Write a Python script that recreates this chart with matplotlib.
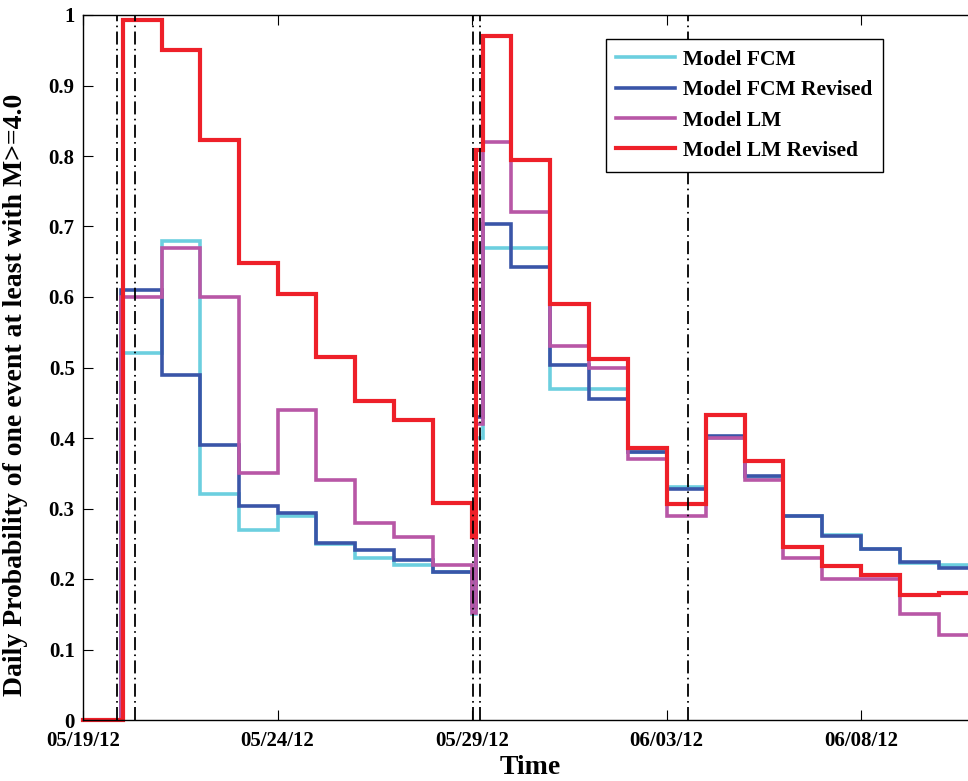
import datetime as dt
import numpy as np
import matplotlib
matplotlib.use("Agg")
import matplotlib.pyplot as plt
import matplotlib.dates as mdates
from matplotlib.ticker import FormatStrFormatter

plt.rcParams['font.family'] = ['Liberation Serif', 'DejaVu Serif']
plt.rcParams['font.weight'] = 'bold'

start = dt.datetime(2012, 5, 19)

# step edges, in days after 05/19/12
edges_red = [0, 1.03, 2.02, 3, 4, 5, 6, 7, 8, 9, 10, 10.1, 10.28,
             11, 12, 13, 14, 15, 16, 17, 18, 19, 20, 21, 22, 23]
edges_oth = [0, 0.97, 2.02, 3, 4, 5, 6, 7, 8, 9, 10, 10.1, 10.28,
             11, 12, 13, 14, 15, 16, 17, 18, 19, 20, 21, 22, 23]

fcm = [0, 0.52, 0.68, 0.32, 0.27, 0.29, 0.25, 0.23, 0.22, 0.21, 0.15, 0.40, 0.67,
       0.67, 0.47, 0.47, 0.38, 0.33, 0.40, 0.345, 0.29, 0.262, 0.242, 0.222, 0.22]
fcm_rev = [0, 0.61, 0.49, 0.39, 0.303, 0.293, 0.251, 0.241, 0.227, 0.21, 0.16, 0.43, 0.703,
           0.642, 0.503, 0.455, 0.38, 0.327, 0.403, 0.346, 0.289, 0.261, 0.243, 0.224, 0.216]
lm = [0, 0.60, 0.67, 0.60, 0.35, 0.44, 0.34, 0.28, 0.26, 0.22, 0.152, 0.42, 0.82,
      0.72, 0.53, 0.50, 0.37, 0.29, 0.40, 0.34, 0.23, 0.20, 0.20, 0.15, 0.12]
lm_rev = [0, 0.993, 0.951, 0.822, 0.648, 0.604, 0.515, 0.453, 0.425, 0.308, 0.259, 0.808, 0.970,
          0.795, 0.590, 0.512, 0.386, 0.307, 0.432, 0.367, 0.246, 0.218, 0.206, 0.178, 0.180]

# event times (dash-dot markers)
events = [0.864, 1.336, 10.03, 10.21, 15.55]

t0 = mdates.date2num(start)

fig = plt.figure(figsize=(9.68, 7.81), dpi=100)
ax = fig.add_axes([83 / 968, 61 / 781, 895 / 968, 705 / 781])

series = [
    (edges_oth, fcm, '#6ccfdf', 'Model FCM', 2.6),
    (edges_oth, fcm_rev, '#3a55a8', 'Model FCM Revised', 2.6),
    (edges_oth, lm, '#b857a6', 'Model LM', 2.6),
    (edges_red, lm_rev, '#ee2029', 'Model LM Revised', 3.0),
]
for edges, vals, col, lab, lw in series:
    x = t0 + np.array(edges)
    y = list(vals) + [vals[-1]]
    ax.step(x, y, where='post', color=col, lw=lw, label=lab,
            solid_joinstyle='miter', clip_on=False)

for e in events:
    ax.axvline(t0 + e, color='black', lw=1.3, ls=(0, (7.2, 2.4, 0.9, 2.4)), zorder=5)

ax.set_xlim(t0, t0 + 23)
ax.set_ylim(0, 1)
ax.set_xticks([t0 + 5 * i for i in range(5)])
ax.xaxis.set_major_formatter(mdates.DateFormatter('%m/%d/%y'))
ax.set_yticks(np.arange(0, 1.01, 0.1))
ax.yaxis.set_major_formatter(FormatStrFormatter('%g'))

ax.tick_params(direction='in', top=True, right=True, length=7, width=0.8,
               labelsize=15)
ax.tick_params(axis='x', pad=8)
ax.tick_params(axis='y', pad=6)
for s in ax.spines.values():
    s.set_linewidth(1.0)

ax.set_xlabel('Time', fontsize=20, fontweight='bold', labelpad=3)
ax.set_ylabel('Daily Probability of one event at least with M>=4.0',
              fontsize=20, fontweight='bold')
ax.yaxis.set_label_coords(-0.062, 0.461)

leg = ax.legend(loc='upper left', bbox_to_anchor=(0.584, 0.966), fontsize=15.5,
                frameon=True, fancybox=False, edgecolor='black', framealpha=1,
                handlelength=2.7, handletextpad=0.4, labelspacing=0.48,
                borderpad=0.5, borderaxespad=0)
leg.get_frame().set_linewidth(1.0)

fig.savefig('out.png', dpi=100)
